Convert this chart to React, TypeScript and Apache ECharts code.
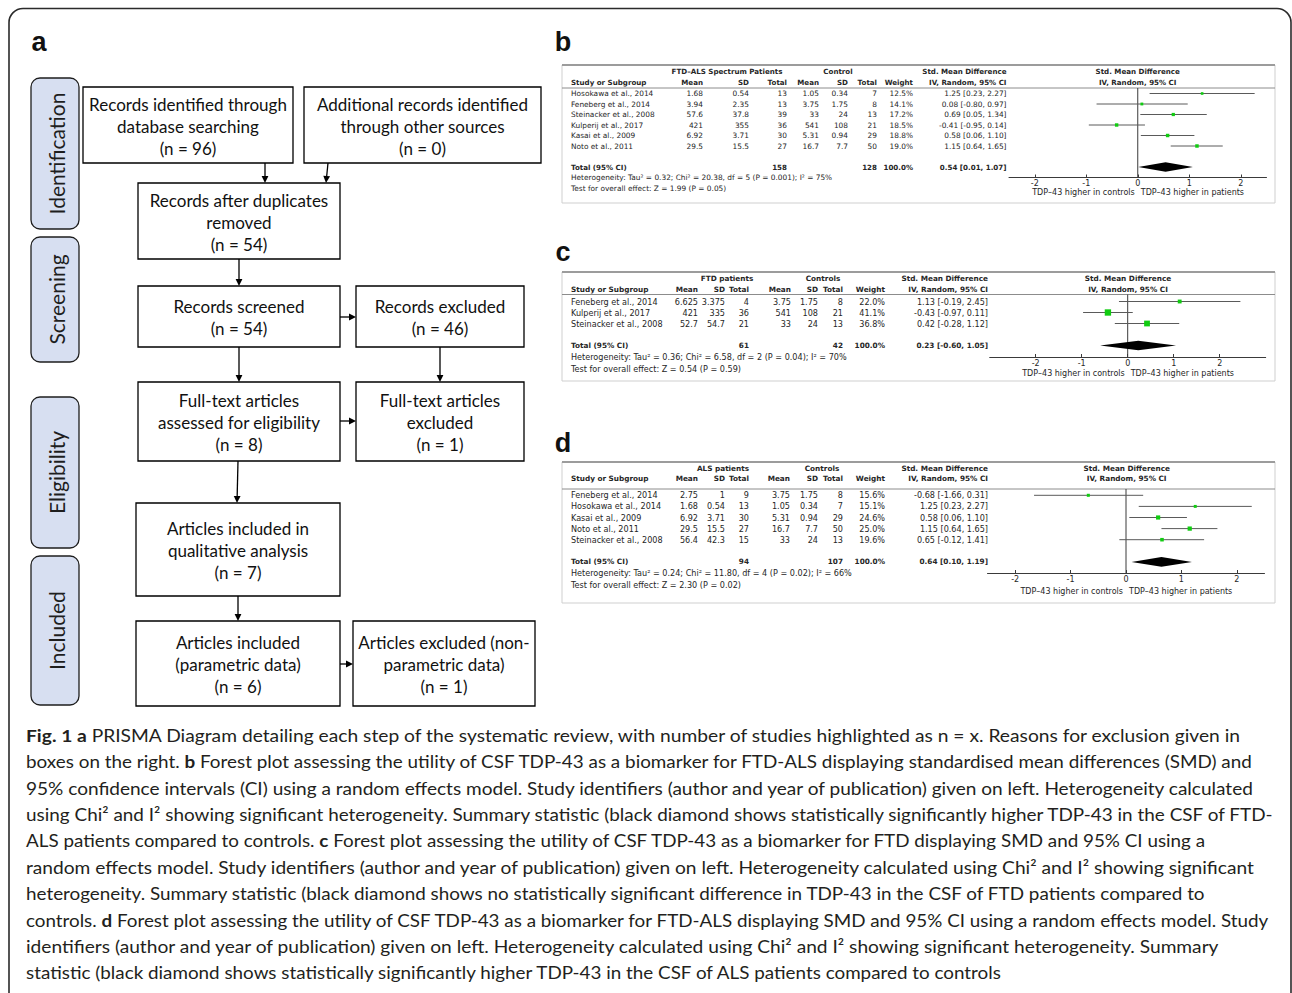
import React, { useEffect, useRef } from 'react';
import * as echarts from 'echarts';

// ================= DATA =================
// ---- Panel b (FTD-ALS spectrum) ----
const bStudies = ['Hosokawa et al., 2014', 'Feneberg et al., 2014', 'Steinacker et al., 2008', 'Kulperij et al., 2017', 'Kasai et al., 2009', 'Noto et al., 2011'];
const bPatMean = [1.68, 3.94, 57.6, 421, 6.92, 29.5];
const bPatSD = [0.54, 2.35, 37.8, 355, 3.71, 15.5];
const bPatN = [13, 13, 39, 36, 30, 27];
const bCtlMean = [1.05, 3.75, 33, 541, 5.31, 16.7];
const bCtlSD = [0.34, 1.75, 24, 108, 0.94, 7.7];
const bCtlN = [7, 8, 13, 21, 29, 50];
const bWeight = [12.5, 14.1, 17.2, 18.5, 18.8, 19.0];
const bSMD = [1.25, 0.08, 0.69, -0.41, 0.58, 1.15];
const bLow = [0.23, -0.80, 0.05, -0.95, 0.06, 0.64];
const bHigh = [2.27, 0.97, 1.34, 0.14, 1.10, 1.65];
const bTotals = [158, 128];
const bPooled = [0.54, 0.01, 1.07];
const bGroups = ['FTD\u2013ALS Spectrum Patients', 'Control'];
const bHetText = 'Heterogeneity: Tau\u00b2 = 0.32; Chi\u00b2 = 20.38, df = 5 (P = 0.001); I\u00b2 = 75%';
const bTestText = 'Test for overall effect: Z = 1.99 (P = 0.05)';

// ---- Panel c (FTD) ----
const cStudies = ['Feneberg et al., 2014', 'Kulperij et al., 2017', 'Steinacker et al., 2008'];
const cPatMean = [6.625, 421, 52.7];
const cPatSD = [3.375, 335, 54.7];
const cPatN = [4, 36, 21];
const cCtlMean = [3.75, 541, 33];
const cCtlSD = [1.75, 108, 24];
const cCtlN = [8, 21, 13];
const cWeight = [22.0, 41.1, 36.8];
const cSMD = [1.13, -0.43, 0.42];
const cLow = [-0.19, -0.97, -0.28];
const cHigh = [2.45, 0.11, 1.12];
const cTotals = [61, 42];
const cPooled = [0.23, -0.60, 1.05];
const cGroups = ['FTD patients', 'Controls'];
const cHetText = 'Heterogeneity: Tau\u00b2 = 0.36; Chi\u00b2 = 6.58, df = 2 (P = 0.04); I\u00b2 = 70%';
const cTestText = 'Test for overall effect: Z = 0.54 (P = 0.59)';

// ---- Panel d (ALS) ----
const dStudies = ['Feneberg et al., 2014', 'Hosokawa et al., 2014', 'Kasai et al., 2009', 'Noto et al., 2011', 'Steinacker et al., 2008'];
const dPatMean = [2.75, 1.68, 6.92, 29.5, 56.4];
const dPatSD = [1, 0.54, 3.71, 15.5, 42.3];
const dPatN = [9, 13, 30, 27, 15];
const dCtlMean = [3.75, 1.05, 5.31, 16.7, 33];
const dCtlSD = [1.75, 0.34, 0.94, 7.7, 24];
const dCtlN = [8, 7, 29, 50, 13];
const dWeight = [15.6, 15.1, 24.6, 25.0, 19.6];
const dSMD = [-0.68, 1.25, 0.58, 1.15, 0.65];
const dLow = [-1.66, 0.23, 0.06, 0.64, -0.12];
const dHigh = [0.31, 2.27, 1.10, 1.65, 1.41];
const dTotals = [94, 107];
const dPooled = [0.64, 0.10, 1.19];
const dGroups = ['ALS patients', 'Controls'];
const dHetText = 'Heterogeneity: Tau\u00b2 = 0.24; Chi\u00b2 = 11.80, df = 4 (P = 0.02); I\u00b2 = 66%';
const dTestText = 'Test for overall effect: Z = 2.30 (P = 0.02)';

// ---- shared labels ----
const tableHeaders = ['Study or Subgroup', 'Mean', 'SD', 'Total', 'Mean', 'SD', 'Total', 'Weight', 'IV, Random, 95% CI'];
const smdTitle = 'Std. Mean Difference';
const totalLabel = 'Total (95% CI)';
const totalWeight = '100.0%';
const axisTicks = [-2, -1, 0, 1, 2];
const axisCaptions = ['TDP\u201343 higher in controls', 'TDP\u201343 higher in patients'];

// ---- PRISMA ----
const stageLabels = ['Identification', 'Screening', 'Eligibility', 'Included'];
const prismaTexts = [
  ['Records identified through', 'database searching', '(n = 96)'],
  ['Additional records identified', 'through other sources', '(n = 0)'],
  ['Records after duplicates', 'removed', '(n = 54)'],
  ['Records screened', '(n = 54)'],
  ['Records excluded', '(n = 46)'],
  ['Full-text articles', 'assessed for eligibility', '(n = 8)'],
  ['Full-text articles', 'excluded', '(n = 1)'],
  ['Articles included in', 'qualitative analysis', '(n = 7)'],
  ['Articles included', '(parametric data)', '(n = 6)'],
  ['Articles excluded (non-', 'parametric data)', '(n = 1)'],
];
const panelLetters = ['a', 'b', 'c', 'd'];

// ---- Caption (segments: n normal, b bold) ----
const captionLines: [string, string][][] = [
  [['b', 'Fig. 1 a'], ['n', ' PRISMA Diagram detailing each step of the systematic review, with number of studies highlighted as n = x. Reasons for exclusion given in']],
  [['n', 'boxes on the right. '], ['b', 'b'], ['n', ' Forest plot assessing the utility of CSF TDP-43 as a biomarker for FTD-ALS displaying standardised mean differences (SMD) and']],
  [['n', '95% confidence intervals (CI) using a random effects model. Study identifiers (author and year of publication) given on left. Heterogeneity calculated']],
  [['n', 'using Chi\u00b2 and I\u00b2 showing significant heterogeneity. Summary statistic (black diamond shows statistically significantly higher TDP-43 in the CSF of FTD-']],
  [['n', 'ALS patients compared to controls. '], ['b', 'c'], ['n', ' Forest plot assessing the utility of CSF TDP-43 as a biomarker for FTD displaying SMD and 95% CI using a']],
  [['n', 'random effects model. Study identifiers (author and year of publication) given on left. Heterogeneity calculated using Chi\u00b2 and I\u00b2 showing significant']],
  [['n', 'heterogeneity. Summary statistic (black diamond shows no statistically significant difference in TDP-43 in the CSF of FTD patients compared to']],
  [['n', 'controls. '], ['b', 'd'], ['n', ' Forest plot assessing the utility of CSF TDP-43 as a biomarker for FTD-ALS displaying SMD and 95% CI using a random effects model. Study']],
  [['n', 'identifiers (author and year of publication) given on left. Heterogeneity calculated using Chi\u00b2 and I\u00b2 showing significant heterogeneity. Summary']],
  [['n', 'statistic (black diamond shows statistically significantly higher TDP-43 in the CSF of ALS patients compared to controls']],
];

// ================= LAYOUT =================
const FF = '"DejaVu Sans", Verdana, sans-serif';
const CAL = 'Lato, "Open Sans", sans-serif';
const TXT = '#262626';

const panels = [
  {
    studies: bStudies, pm: bPatMean, ps: bPatSD, pn: bPatN, cm: bCtlMean, cs: bCtlSD, cn: bCtlN,
    w: bWeight, smd: bSMD, lo: bLow, hi: bHigh, totals: bTotals, pooled: bPooled, groups: bGroups,
    het: bHetText, test: bTestText,
    L: {
      box: [562, 65, 1275, 203], h1: 71, h2: 82, line: 88, row0: 93.5, step: 10.5, hetY: 177.5, testY: 188,
      font: 7.4, bfont: 7.1, studyX: 571, cols: [703, 749, 787, 819, 848, 877, 913, 1006.5], grp: [727, 838],
      xMin: -2.5, xMax: 2.5, plotL: 1009, plotW: 257.5, axisY: 177.5, hdrCx: 1137.7, capY: 192,
    },
  },
  {
    studies: cStudies, pm: cPatMean, ps: cPatSD, pn: cPatN, cm: cCtlMean, cs: cCtlSD, cn: cCtlN,
    w: cWeight, smd: cSMD, lo: cLow, hi: cHigh, totals: cTotals, pooled: cPooled, groups: cGroups,
    het: cHetText, test: cTestText,
    L: {
      box: [562, 272, 1275, 381], h1: 278, h2: 289, line: 294.5, row0: 301.5, step: 11, hetY: 357, testY: 368.5,
      font: 8.1, bfont: 7.3, studyX: 571, cols: [698, 725, 749, 791, 818, 843, 885, 988], grp: [727, 823],
      xMin: -3, xMax: 3, plotL: 989.7, plotW: 276, axisY: 357, hdrCx: 1128, capY: 373,
    },
  },
  {
    studies: dStudies, pm: dPatMean, ps: dPatSD, pn: dPatN, cm: dCtlMean, cs: dCtlSD, cn: dCtlN,
    w: dWeight, smd: dSMD, lo: dLow, hi: dHigh, totals: dTotals, pooled: dPooled, groups: dGroups,
    het: dHetText, test: dTestText,
    L: {
      box: [562, 462, 1275, 603], h1: 468, h2: 478.5, line: 489, row0: 495.3, step: 11.1, hetY: 573, testY: 584.5,
      font: 8.1, bfont: 7.3, studyX: 571, cols: [698, 725, 749, 790, 818, 843, 885, 988], grp: [723, 822],
      xMin: -2.5, xMax: 2.5, plotL: 987.5, plotW: 277, axisY: 573, hdrCx: 1126.7, capY: 591,
    },
  },
];

const boxRects = [
  [83, 87, 210, 76],
  [304, 87, 237, 76],
  [138, 183, 202, 76],
  [138, 286, 202, 61],
  [356, 286, 168, 61],
  [138, 382, 202, 79],
  [356, 382, 168, 79],
  [136, 503, 204, 93],
  [136, 621, 204, 85],
  [353, 621, 182, 85],
];
const stageRects = [
  [31, 78, 48, 151],
  [31, 237, 48, 125],
  [31, 397, 48, 151],
  [31, 556, 48, 149],
];
const arrows = [
  [265, 163, 265, 183],
  [328, 163, 326, 183],
  [239, 259, 239, 286],
  [340, 317, 356, 317],
  [239, 347, 239, 382],
  [440, 347, 440, 382],
  [340, 421, 356, 421],
  [238, 461, 237, 503],
  [238, 596, 238, 621],
  [340, 664, 353, 664],
];
const letterPos = [[39, 42], [563, 42], [563, 252], [563, 443]];
const captionY0 = 735;
const captionStep = 26.4;
const captionX = 26;
const captionRight = [1243, 1255, 1256, 1276, 1208, 1258, 1207, 1271, 1222, 1004];

// ================= HELPERS =================
let measureCtx: CanvasRenderingContext2D | null = null;
function measure(text: string, font: string) {
  if (!measureCtx) measureCtx = document.createElement('canvas').getContext('2d');
  measureCtx!.font = font;
  return measureCtx!.measureText(text).width;
}

function txt(x: number, y: number, text: string, size: number, opts: any = {}) {
  return {
    type: 'text', x, y, silent: true, z: 10,
    style: {
      text,
      fill: opts.fill || TXT,
      font: `${opts.bold ? 'bold ' : ''}${size}px ${opts.family || FF}`,
      align: opts.align || 'left',
      verticalAlign: 'middle',
    },
  };
}

function arrow(x1: number, y1: number, x2: number, y2: number) {
  const dx = x2 - x1, dy = y2 - y1;
  const len = Math.hypot(dx, dy);
  const ux = dx / len, uy = dy / len;
  const hl = 7, hw = 3.4;
  const bx = x2 - ux * hl, by = y2 - uy * hl;
  return [
    { type: 'line', silent: true, z: 5, shape: { x1, y1, x2: bx + ux, y2: by + uy }, style: { stroke: '#000', lineWidth: 1.3 } },
    { type: 'polygon', silent: true, z: 5, shape: { points: [[x2, y2], [bx - uy * hw, by + ux * hw], [bx + uy * hw, by - ux * hw]] }, style: { fill: '#000' } },
  ];
}

const fmt2 = (v: number) => v.toFixed(2);
const ciText = (e: number, l: number, h: number) => `${fmt2(e)} [${fmt2(l)}, ${fmt2(h)}]`;

function buildOption() {
  const graphics: any[] = [];
  const grids: any[] = [];
  const xAxes: any[] = [];
  const yAxes: any[] = [];
  const series: any[] = [];

  // outer frame
  graphics.push({ type: 'rect', silent: true, z: 1, shape: { x: 9, y: 8.5, width: 1282, height: 1010, r: 14 }, style: { fill: 'none', stroke: '#2b2b2b', lineWidth: 1.6 } });

  // panel letters
  panelLetters.forEach((l, i) => {
    graphics.push(txt(letterPos[i][0], letterPos[i][1], l, 27, { bold: true, family: '"Liberation Sans", Arial, sans-serif', fill: '#111', align: 'center' }));
  });

  // ---------- PRISMA ----------
  stageRects.forEach((r, i) => {
    graphics.push({ type: 'rect', silent: true, z: 3, shape: { x: r[0], y: r[1], width: r[2], height: r[3], r: 9 }, style: { fill: '#d7dff1', stroke: '#1e1e1e', lineWidth: 1.3 } });
    graphics.push({
      type: 'text', silent: true, z: 10, x: r[0] + r[2] / 2 + 1, y: r[1] + r[3] / 2, rotation: Math.PI / 2,
      style: { text: stageLabels[i], font: `21px ${CAL}`, fill: '#1e1e1e', align: 'center', verticalAlign: 'middle' },
    });
  });

  const boxFont = 100 * 198 / measure('Records identified through', `100px ${CAL}`);
  boxRects.forEach((r, i) => {
    graphics.push({ type: 'rect', silent: true, z: 3, shape: { x: r[0], y: r[1], width: r[2], height: r[3] }, style: { fill: '#fff', stroke: '#000', lineWidth: 1.3 } });
    const lines = prismaTexts[i];
    const cx = r[0] + r[2] / 2;
    const cy = r[1] + r[3] / 2 + 1;
    lines.forEach((ln, k) => {
      graphics.push(txt(cx, cy + (k - (lines.length - 1) / 2) * 22, ln, boxFont, { family: CAL, fill: '#111', align: 'center' }));
    });
  });
  arrows.forEach((a) => graphics.push(...arrow(a[0], a[1], a[2], a[3])));

  // ---------- Caption ----------
  const capSize = 17.6;
  captionLines.forEach((segs, i) => {
    let w = 0;
    segs.forEach(([s, t]) => { w += measure(t, `${s === 'b' ? 'bold ' : ''}${capSize}px Lato`); });
    const target = captionRight[i] - captionX;
    const sx = target / w;
    const rich = segs.map(([s, t]) => `{${s}|${t}}`).join('');
    graphics.push({
      type: 'text', silent: true, z: 10, x: captionX, y: captionY0 + i * captionStep, scaleX: sx, scaleY: 1,
      style: {
        text: rich, align: 'left', verticalAlign: 'middle', fill: '#231f20', font: `${capSize}px ${CAL}`,
        rich: {
          n: { fontSize: capSize, fontFamily: CAL, fontWeight: 'normal', fill: '#231f20' },
          b: { fontSize: capSize, fontFamily: CAL, fontWeight: 'bold', fill: '#231f20' },
        },
      },
    });
  });

  // ---------- Forest plots ----------
  panels.forEach((P, pi) => {
    const L = P.L;
    const [bx0, by0, bx1, by1] = L.box;
    graphics.push({ type: 'rect', silent: true, z: 1, shape: { x: bx0, y: by0, width: bx1 - bx0, height: by1 - by0 }, style: { fill: 'none', stroke: '#cfcfcf', lineWidth: 1 } });
    graphics.push({ type: 'line', silent: true, z: 2, shape: { x1: bx0, y1: by0, x2: bx1, y2: by0 }, style: { stroke: '#9c9c9c', lineWidth: 2 } });
    graphics.push({ type: 'line', silent: true, z: 2, shape: { x1: bx0, y1: L.line, x2: bx1, y2: L.line }, style: { stroke: '#8c8c8c', lineWidth: 1 } });

    const f = L.font, bf = L.bfont;
    graphics.push(txt(L.grp[0], L.h1, P.groups[0], bf, { bold: true, align: 'center' }));
    graphics.push(txt(L.grp[1], L.h1, P.groups[1], bf, { bold: true, align: 'center' }));
    graphics.push(txt(L.cols[7], L.h1, smdTitle, bf, { bold: true, align: 'right' }));
    graphics.push(txt(L.hdrCx, L.h1, smdTitle, bf, { bold: true, align: 'center' }));
    graphics.push(txt(L.studyX, L.h2, tableHeaders[0], bf, { bold: true }));
    for (let k = 1; k < tableHeaders.length; k++) {
      graphics.push(txt(L.cols[k - 1], L.h2, tableHeaders[k], bf, { bold: true, align: 'right' }));
    }
    graphics.push(txt(L.hdrCx, L.h2, tableHeaders[8], bf, { bold: true, align: 'center' }));

    P.studies.forEach((s, k) => {
      const y = L.row0 + k * L.step;
      const vals = [String(P.pm[k]), String(P.ps[k]), String(P.pn[k]), String(P.cm[k]), String(P.cs[k]), String(P.cn[k]), P.w[k].toFixed(1) + '%', ciText(P.smd[k], P.lo[k], P.hi[k])];
      graphics.push(txt(L.studyX, y, s, f));
      vals.forEach((v, j) => graphics.push(txt(L.cols[j], y, v, f, { align: 'right' })));
    });
    const totIdx = P.studies.length + 1;
    const ty = L.row0 + totIdx * L.step;
    graphics.push(txt(L.studyX, ty, totalLabel, bf, { bold: true }));
    graphics.push(txt(L.cols[2], ty, String(P.totals[0]), bf, { bold: true, align: 'right' }));
    graphics.push(txt(L.cols[5], ty, String(P.totals[1]), bf, { bold: true, align: 'right' }));
    graphics.push(txt(L.cols[6], ty, totalWeight, bf, { bold: true, align: 'right' }));
    graphics.push(txt(L.cols[7], ty, ciText(P.pooled[0], P.pooled[1], P.pooled[2]), bf, { bold: true, align: 'right' }));
    graphics.push(txt(L.studyX, L.hetY, P.het, f));
    graphics.push(txt(L.studyX, L.testY, P.test, f));

    const zeroX = L.plotL + (0 - L.xMin) / (L.xMax - L.xMin) * L.plotW;
    graphics.push(txt(zeroX - 3, L.capY, axisCaptions[0], 8, { align: 'right' }));
    graphics.push(txt(zeroX + 3, L.capY, axisCaptions[1], 8, { align: 'left' }));

    const yMin = (L.line - L.row0) / L.step;
    const yMax = (L.axisY - L.row0) / L.step;
    grids.push({ left: L.plotL, top: L.line, width: L.plotW, height: L.axisY - L.line, containLabel: false });
    xAxes.push({
      type: 'value', gridIndex: pi, min: L.xMin, max: L.xMax, position: 'bottom',
      axisLine: { show: true, onZero: false, lineStyle: { color: '#3a3a3a', width: 1 } },
      axisTick: { show: true, inside: true, length: 3, customValues: axisTicks, lineStyle: { color: '#3a3a3a' } },
      axisLabel: { show: true, customValues: axisTicks, fontSize: 8, fontFamily: FF, color: TXT, margin: 2 },
      splitLine: { show: false },
    });
    yAxes.push({ type: 'value', gridIndex: pi, min: yMin, max: yMax, inverse: true, show: false, splitLine: { show: false } });

    series.push({
      type: 'line', xAxisIndex: pi, yAxisIndex: pi, silent: true, symbol: 'none', z: 2,
      lineStyle: { color: '#3a3a3a', width: 1 },
      data: [[0, yMin], [0, yMax]],
    });
    series.push({
      type: 'custom', xAxisIndex: pi, yAxisIndex: pi, silent: true, z: 3, clip: false,
      encode: { x: [0, 1, 2], y: 3 },
      data: P.studies.map((_, k) => [P.lo[k], P.smd[k], P.hi[k], k, P.w[k]]),
      renderItem: (params: any, api: any) => {
        const a = api.coord([api.value(0), api.value(3)]);
        const b = api.coord([api.value(2), api.value(3)]);
        const c = api.coord([api.value(1), api.value(3)]);
        const s = 1 + api.value(4) * 0.13;
        return {
          type: 'group', children: [
            { type: 'line', shape: { x1: a[0], y1: a[1], x2: b[0], y2: b[1] }, style: { stroke: '#5a5a5a', lineWidth: 1 } },
            { type: 'rect', shape: { x: c[0] - s / 2, y: c[1] - s / 2, width: s, height: s }, style: { fill: '#11cc11' } },
          ],
        };
      },
    });
    series.push({
      type: 'custom', xAxisIndex: pi, yAxisIndex: pi, silent: true, z: 3, clip: false,
      encode: { x: [0, 1, 2], y: 3 },
      data: [[P.pooled[1], P.pooled[0], P.pooled[2], totIdx]],
      renderItem: (params: any, api: any) => {
        const l = api.coord([api.value(0), api.value(3)]);
        const m = api.coord([api.value(1), api.value(3)]);
        const r = api.coord([api.value(2), api.value(3)]);
        const h = 4.8;
        return {
          type: 'polygon',
          shape: { points: [[l[0], l[1]], [m[0], m[1] - h], [r[0], r[1]], [m[0], m[1] + h]] },
          style: { fill: '#000' },
        };
      },
    });
  });

  return {
    animation: false,
    backgroundColor: '#ffffff',
    grid: grids,
    xAxis: xAxes,
    yAxis: yAxes,
    series,
    graphic: { elements: graphics },
  };
}

export default function App() {
  const ref = useRef<HTMLDivElement>(null);
  useEffect(() => {
    const chart = echarts.init(ref.current!, null, { renderer: 'svg', width: 1292, height: 993 });
    chart.setOption(buildOption() as any);
    return () => chart.dispose();
  }, []);
  return <div ref={ref} style={{ position: 'absolute', left: 0, top: 0, width: 1292, height: 993, background: '#fff' }} />;
}
